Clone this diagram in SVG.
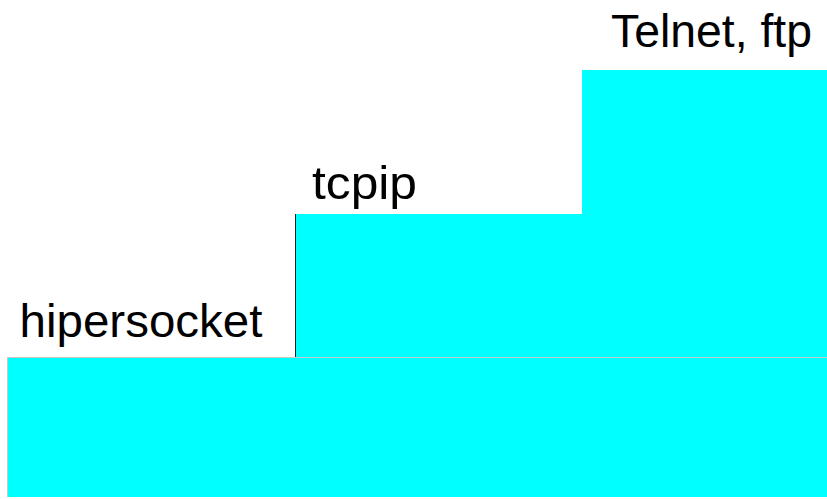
<svg xmlns="http://www.w3.org/2000/svg" width="827" height="499" viewBox="0 0 827 499">
<style>
.step{fill:#00ffff;stroke:none}
.lbl{font-family:"Liberation Sans",Arial,sans-serif;font-size:47px;fill:#000}
.edge-light{stroke:#c8c8c8;stroke-width:1;fill:none}
.edge-dark{stroke:#222;stroke-width:1;fill:none}
</style>
<rect width="827" height="499" fill="#fff"/>
<g id="hipersocket">
<rect class="step" x="7.5" y="357" width="819.5" height="140"/>
<path class="edge-light" d="M7.5 497 V357.5 H827"/>
<text class="lbl" x="19.5" y="337" textLength="243" lengthAdjust="spacingAndGlyphs">hipersocket</text>
</g>
<g id="tcpip">
<rect class="step" x="295.5" y="214" width="531.5" height="143"/>
<path class="edge-dark" d="M295.5 357 V214"/>
<text class="lbl" x="312" y="199" textLength="105" lengthAdjust="spacingAndGlyphs">tcpip</text>
</g>
<g id="telnet-ftp">
<rect class="step" x="582" y="70" width="245" height="144"/>
<text class="lbl" x="611" y="47" textLength="201" lengthAdjust="spacingAndGlyphs">Telnet, ftp</text>
</g>
<g id="connectors"/>
</svg>
